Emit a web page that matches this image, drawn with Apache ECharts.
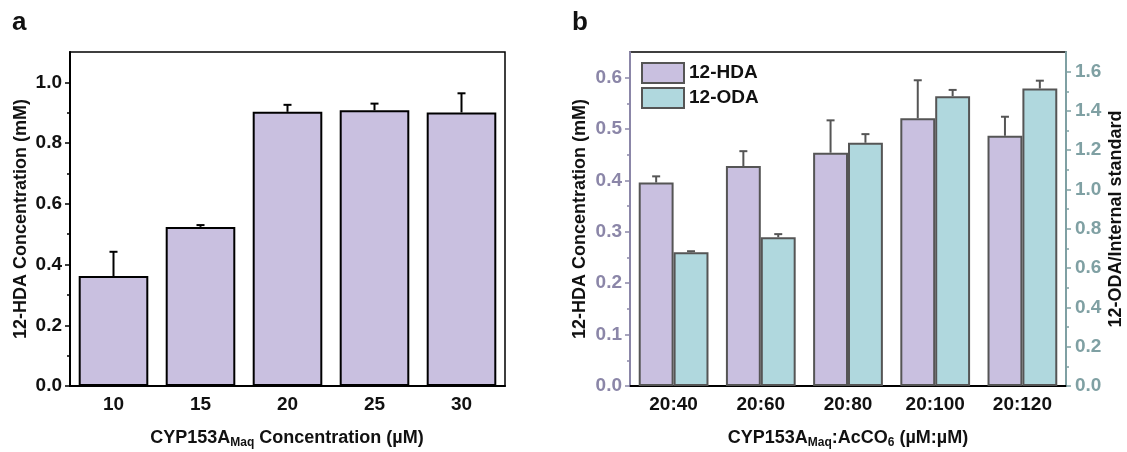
<!DOCTYPE html>
<html><head><meta charset="utf-8">
<script src="https://cdn.jsdelivr.net/npm/echarts@6/dist/echarts.min.js"></script>
<style>html,body{margin:0;padding:0;background:#fff}#c{width:1127px;height:452px}</style>
</head><body><div id="c"></div>
<script>
// ---- Panel a data ----
const catsA = ['10', '15', '20', '25', '30'];
const hdaA = [0.362, 0.524, 0.903, 0.908, 0.901];
const hdaAErr = [0.080, 0.006, 0.023, 0.022, 0.063];
const yTicksA = [0, 0.2, 0.4, 0.6, 0.8, 1.0];
const yMinorA = [0.1, 0.3, 0.5, 0.7, 0.9];
// ---- Panel b data ----
const catsB = ['20:40', '20:60', '20:80', '20:100', '20:120'];
const hdaB = [0.396, 0.428, 0.454, 0.521, 0.487];
const hdaBErr = [0.012, 0.029, 0.063, 0.074, 0.037];
const odaB = [0.681, 0.757, 1.238, 1.475, 1.514];
const odaBErr = [0.005, 0.016, 0.044, 0.032, 0.040];
const yTicksBL = [0, 0.1, 0.2, 0.3, 0.4, 0.5, 0.6];
const yMinorBL = [0.05, 0.15, 0.25, 0.35, 0.45, 0.55];
const yTicksBR = [0, 0.2, 0.4, 0.6, 0.8, 1.0, 1.2, 1.4, 1.6];
const yMinorBR = [0.1, 0.3, 0.5, 0.7, 0.9, 1.1, 1.3, 1.5];

const FONT = "'Liberation Sans', Arial, sans-serif";
const PURPLE = '#c9c0e0', TEAL = '#b0d8de';
const LAX = '#8b86a8', RAX = '#7fa0a3';

function errSeries(name, xi, yi, means, errs, shift, color) {
  return {
    type: 'custom', name: name, xAxisIndex: xi, yAxisIndex: yi, z: 1,
    data: means.map((m, i) => [i, m, m + errs[i]]),
    renderItem: function (params, api) {
      const band = api.size([1, 0])[0];
      const bw = band * 0.8 / (shift === 0 ? 1 : 2);
      const p0 = api.coord([api.value(0), api.value(1)]);
      const p1 = api.coord([api.value(0), api.value(2)]);
      const cx = p0[0] + shift * bw / 2;
      const st = { stroke: color, lineWidth: 2 };
      return { type: 'group', children: [
        { type: 'line', shape: { x1: cx, y1: p0[1], x2: cx, y2: p1[1] }, style: st },
        { type: 'line', shape: { x1: cx - 4, y1: p1[1], x2: cx + 4, y2: p1[1] }, style: st }
      ]};
    }
  };
}

const tickLabel = (c) => ({ fontFamily: FONT, fontSize: 19, fontWeight: 'bold', color: c });
const titleStyle = { fontFamily: FONT, fontSize: 18, fontWeight: 'bold', fill: '#111' };

const option = {
  animation: false,
  backgroundColor: '#fff',
  grid: [
    { left: 70, top: 52, width: 435, height: 334, show: true, borderColor: '#000', borderWidth: 1.5, backgroundColor: 'transparent' },
    { left: 630, top: 52, width: 436, height: 334, show: true, borderColor: '#000', borderWidth: 1.5, backgroundColor: 'transparent' }
  ],
  legend: {
    data: ['12-HDA', '12-ODA'], orient: 'vertical', left: 636, top: 57,
    itemWidth: 42, itemHeight: 20, itemGap: 3, icon: 'rect',
    textStyle: { fontFamily: FONT, fontSize: 19, fontWeight: 'bold', color: '#111' }
  },
  xAxis: [
    { type: 'category', gridIndex: 0, data: catsA,
      axisLine: { lineStyle: { color: '#000', width: 2 } },
      axisTick: { alignWithLabel: true, length: 5, lineStyle: { color: '#000', width: 1.5 } },
      axisLabel: Object.assign({ margin: 9 }, tickLabel('#111')) },
    { type: 'category', gridIndex: 0, position: 'bottom', data: catsA, axisLine: { show: false },
      axisTick: { alignWithLabel: false, length: 3, lineStyle: { color: '#000', width: 1.5 } },
      axisLabel: { show: false } },
    { type: 'category', gridIndex: 1, data: catsB,
      axisLine: { lineStyle: { color: '#000', width: 2 } },
      axisTick: { alignWithLabel: true, length: 5, lineStyle: { color: '#000', width: 1.5 } },
      axisLabel: Object.assign({ margin: 9 }, tickLabel('#111')) },
    { type: 'category', gridIndex: 1, position: 'bottom', data: catsB, axisLine: { show: false },
      axisTick: { alignWithLabel: false, length: 3, lineStyle: { color: '#000', width: 1.5 } },
      axisLabel: { show: false } }
  ],
  yAxis: [
    { type: 'value', gridIndex: 0, position: 'left', min: 0, max: 1.1, splitLine: { show: false },
      axisLine: { show: true, lineStyle: { color: '#000', width: 2 } },
      axisTick: { show: true, length: 5, customValues: yTicksA, lineStyle: { color: '#000', width: 1.5 } },
      axisLabel: Object.assign({ margin: 8, customValues: yTicksA, formatter: v => v.toFixed(1) }, tickLabel('#111')) },
    { type: 'value', gridIndex: 0, position: 'left', min: 0, max: 1.1, splitLine: { show: false },
      axisLine: { show: false },
      axisTick: { show: true, length: 3, customValues: yMinorA, lineStyle: { color: '#000', width: 1.5 } },
      axisLabel: { show: false, customValues: [] } },
    { type: 'value', gridIndex: 1, position: 'left', min: 0, max: 0.65, splitLine: { show: false },
      axisLine: { show: true, lineStyle: { color: LAX, width: 2 } },
      axisTick: { show: true, length: 5, customValues: yTicksBL, lineStyle: { color: LAX, width: 1.5 } },
      axisLabel: Object.assign({ margin: 8, customValues: yTicksBL, formatter: v => v.toFixed(1) }, tickLabel(LAX)) },
    { type: 'value', gridIndex: 1, position: 'left', min: 0, max: 0.65, splitLine: { show: false },
      axisLine: { show: false },
      axisTick: { show: true, length: 3, customValues: yMinorBL, lineStyle: { color: LAX, width: 1.5 } },
      axisLabel: { show: false, customValues: [] } },
    { type: 'value', gridIndex: 1, position: 'right', min: 0, max: 1.7, splitLine: { show: false },
      axisLine: { show: true, lineStyle: { color: RAX, width: 2 } },
      axisTick: { show: true, length: 5, customValues: yTicksBR, lineStyle: { color: RAX, width: 1.5 } },
      axisLabel: Object.assign({ margin: 9, customValues: yTicksBR, formatter: v => v.toFixed(1) }, tickLabel(RAX)) },
    { type: 'value', gridIndex: 1, position: 'right', min: 0, max: 1.7, splitLine: { show: false },
      axisLine: { show: false },
      axisTick: { show: true, length: 3, customValues: yMinorBR, lineStyle: { color: RAX, width: 1.5 } },
      axisLabel: { show: false, customValues: [] } }
  ],
  series: [
    { type: 'bar', name: 'A', xAxisIndex: 0, yAxisIndex: 0, data: hdaA, barCategoryGap: '20%', z: 2,
      itemStyle: { color: PURPLE, borderColor: '#000', borderWidth: 2 } },
    errSeries('errA', 0, 0, hdaA, hdaAErr, 0, '#000'),
    { type: 'bar', name: '12-HDA', xAxisIndex: 2, yAxisIndex: 2, data: hdaB, barGap: '0%', barCategoryGap: '20%', z: 2,
      itemStyle: { color: PURPLE, borderColor: '#555', borderWidth: 2 } },
    { type: 'bar', name: '12-ODA', xAxisIndex: 2, yAxisIndex: 4, data: odaB, barGap: '0%', barCategoryGap: '20%', z: 2,
      itemStyle: { color: TEAL, borderColor: '#555', borderWidth: 2 } },
    errSeries('errHDA', 2, 2, hdaB, hdaBErr, -1, '#555'),
    errSeries('errODA', 2, 4, odaB, odaBErr, 1, '#555')
  ],
  graphic: [
    { type: 'text', left: 12, top: 10, style: { text: 'a', font: "bold 26px 'Liberation Sans', Arial", fill: '#111' } },
    { type: 'text', left: 572, top: 10, style: { text: 'b', font: "bold 26px 'Liberation Sans', Arial", fill: '#111' } },
    { type: 'text', x: 21, y: 219, rotation: Math.PI / 2,
      style: Object.assign({ text: '12-HDA Concentration (mM)', align: 'center', verticalAlign: 'middle' }, titleStyle) },
    { type: 'text', x: 580, y: 219, rotation: Math.PI / 2,
      style: Object.assign({ text: '12-HDA Concentration (mM)', align: 'center', verticalAlign: 'middle' }, titleStyle) },
    { type: 'text', x: 1116, y: 219, rotation: Math.PI / 2,
      style: Object.assign({ text: '12-ODA/Internal standard', align: 'center', verticalAlign: 'middle' }, titleStyle) },
    { type: 'text', x: 287, y: 438,
      style: { text: '{m|CYP153A}{s|Maq}{m| Concentration (µM)}', align: 'center', verticalAlign: 'middle',
        rich: { m: { fontFamily: FONT, fontSize: 18, fontWeight: 'bold', fill: '#111', lineHeight: 22 },
                s: { fontFamily: FONT, fontSize: 12, fontWeight: 'bold', fill: '#111', padding: [10, 0, 0, 0], lineHeight: 22 } } } },
    { type: 'text', x: 848, y: 438,
      style: { text: '{m|CYP153A}{s|Maq}{m|:AcCO}{s|6}{m| (µM:µM)}', align: 'center', verticalAlign: 'middle',
        rich: { m: { fontFamily: FONT, fontSize: 18, fontWeight: 'bold', fill: '#111', lineHeight: 22 },
                s: { fontFamily: FONT, fontSize: 12, fontWeight: 'bold', fill: '#111', padding: [10, 0, 0, 0], lineHeight: 22 } } } }
  ]
};
const chart = echarts.init(document.getElementById('c'), null, { renderer: 'canvas' });
chart.setOption(option);
</script></body></html>
